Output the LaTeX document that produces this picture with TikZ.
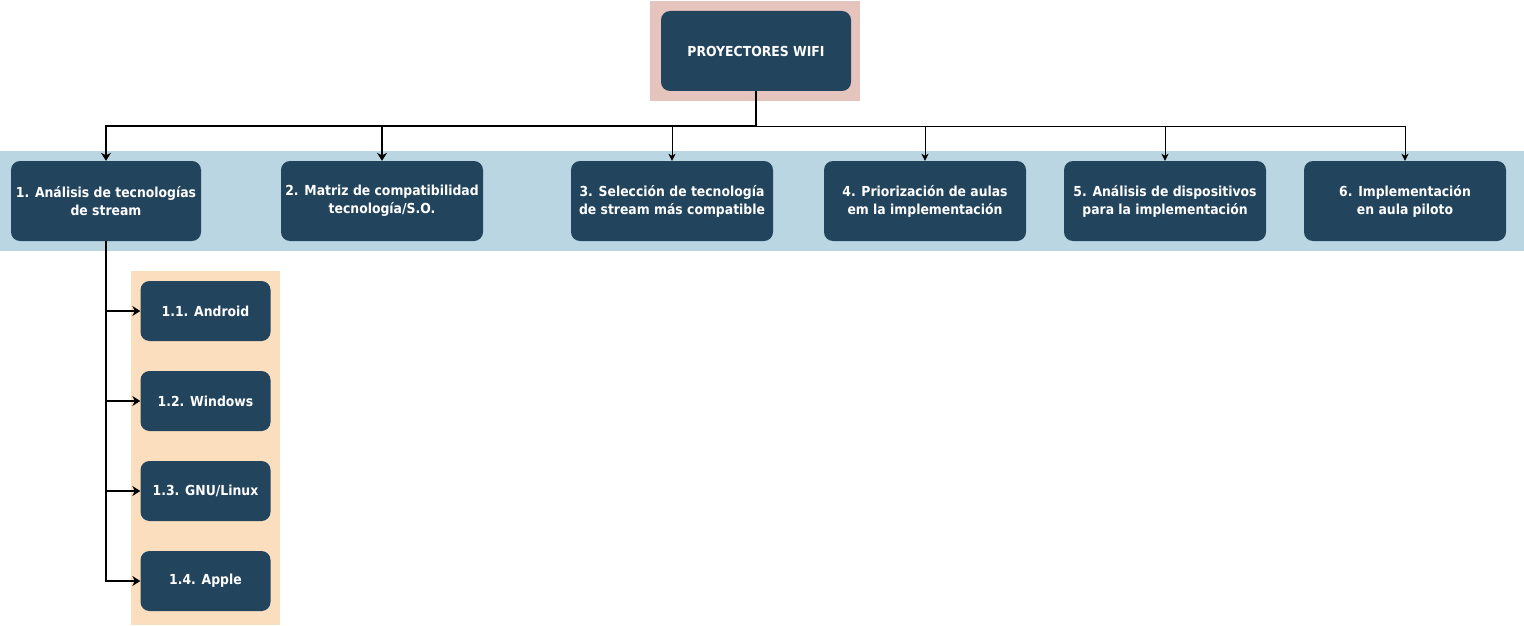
\documentclass[tikz,border=0pt]{standalone}
\usepackage{fontspec}
\setmainfont{DejaVu Sans Condensed}
\usetikzlibrary{arrows.meta}
\definecolor{nodefill}{HTML}{23445D}
\definecolor{bandblue}{HTML}{BAD6E2}
\definecolor{bandpink}{HTML}{E6C4BE}
\definecolor{bandpeach}{HTML}{FADEBE}
\tikzset{
  box/.style={draw=none, fill=nodefill, rounded corners=9pt, text=white,
    font=\bfseries\fontsize{13.8}{18}\selectfont, align=center,
    minimum width=190pt, minimum height=80pt, inner sep=0pt},
  widebox/.style={box, minimum width=202pt},
  subbox/.style={box, minimum width=130pt, minimum height=60pt},
  thinarrow/.style={draw=black, line width=1pt, -{Stealth[length=7pt,width=7pt,inset=2pt]}},
  thickarrow/.style={draw=black, line width=2pt, -{Stealth[length=8pt,width=10pt,inset=2.5pt]}},
}
\begin{document}
\begin{tikzpicture}[x=1pt,y=-1pt]
\useasboundingbox (0,0) rectangle (1524,626);
% backgrounds
\fill[bandpink] (650,1) rectangle (860,101);
\fill[bandblue] (0,151) rectangle (1524,251);
\fill[bandpeach] (131,271) rectangle (280,625);
% nodes
\node[box] (root) at (756,51) {PROYECTORES WIFI};
\node[box] (n1) at (106,201) {1. Análisis de tecnologías\\de stream};
\node[widebox] (n2) at (382,201) {2. Matriz de compatibilidad\\tecnología/S.O.};
\node[widebox] (n3) at (672,201) {3. Selección de tecnología\\de stream más compatible};
\node[widebox] (n4) at (925,201) {4. Priorización de aulas\\em la implementación};
\node[widebox] (n5) at (1165,201) {5. Análisis de dispositivos\\para la implementación};
\node[widebox] (n6) at (1405,201) {6. Implementación\\en aula piloto};
\node[subbox] (s1) at (205.5,311) {1.1. Android};
\node[subbox] (s2) at (205.5,401) {1.2. Windows};
\node[subbox] (s3) at (205.5,491) {1.3. GNU/Linux};
\node[subbox] (s4) at (205.5,581) {1.4. Apple};
% connectors
\coordinate (bus) at (756,126);
\draw[thinarrow] (root.south) -- (bus) -| (n3.north);
\draw[thinarrow] (root.south) -- (bus) -| (n4.north);
\draw[thinarrow] (root.south) -- (bus) -| (n5.north);
\draw[thinarrow] (root.south) -- (bus) -| (n6.north);
\draw[thickarrow] (root.south) -- (bus) -| (n1.north);
\draw[thickarrow] (root.south) -- (bus) -| (n2.north);
\draw[thickarrow] (n1.south) |- (s1.west);
\draw[thickarrow] (n1.south) |- (s2.west);
\draw[thickarrow] (n1.south) |- (s3.west);
\draw[thickarrow] (n1.south) |- (s4.west);
\end{tikzpicture}
\end{document}
